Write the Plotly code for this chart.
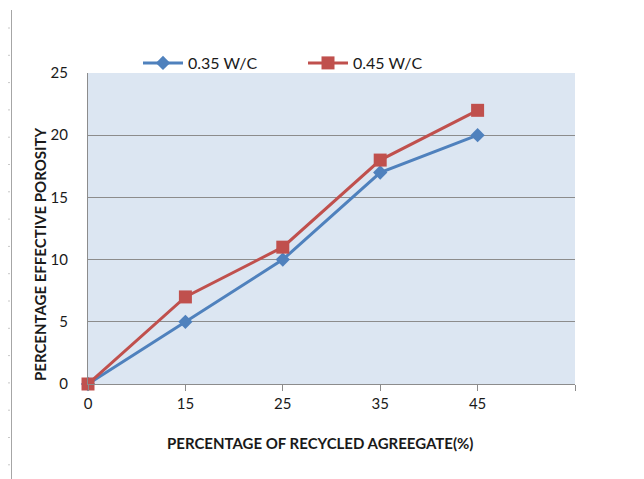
import plotly.graph_objects as go

categories = ["0", "15", "25", "35", "45"]
wc035 = [0, 5, 10, 17, 20]
wc045 = [0, 7, 11, 18, 22]
y_ticks = [0, 5, 10, 15, 20, 25]

FONT = "Lato, 'Open Sans', sans-serif"
xpos = list(range(len(categories)))

# page body has an 8px margin, so the figure is drawn 8px smaller and offset
PW, PH = 487, 311  # plot area in px

fig = go.Figure()
fig.add_trace(go.Scatter(
    x=xpos, y=wc035, name="0.35 W/C", mode="lines+markers", cliponaxis=False,
    line=dict(color="#4F81BD", width=3),
    marker=dict(symbol="diamond", size=11, color="#4F81BD"),
))
fig.add_trace(go.Scatter(
    x=xpos, y=wc045, name="0.45 W/C", mode="lines+markers", cliponaxis=False,
    line=dict(color="#C0504D", width=3),
    marker=dict(symbol="square", size=13, color="#C0504D"),
))

fig.update_layout(
    width=636, height=471,
    margin=dict(l=80, r=69, t=65, b=95),
    paper_bgcolor="white", plot_bgcolor="#DCE6F2",
    font=dict(family=FONT, size=15, color="#1a1a1a"),
    showlegend=True,
    legend=dict(orientation="h", x=(138 - 88) / PW, y=1 + 10 / PH, xanchor="left", yanchor="middle",
                font=dict(size=16), bgcolor="rgba(0,0,0,0)", entrywidth=110,
                itemwidth=40),
    xaxis=dict(range=[0, len(categories)], tickvals=list(range(len(categories) + 1)),
               ticktext=categories + [""], showgrid=False, zeroline=False,
               showline=True, linecolor="#8c8c8c", linewidth=1,
               ticks="outside", ticklen=6, tickcolor="#8c8c8c",
               tickfont=dict(size=15)),
    yaxis=dict(range=[0, 25], tickvals=y_ticks, showgrid=True, gridcolor="#8c8c8c",
               gridwidth=1, zeroline=False, showline=True, linecolor="#8c8c8c",
               ticks="outside", ticklen=0, ticklabelstandoff=16,
               tickfont=dict(size=15)),
)

fig.add_annotation(text="<b>PERCENTAGE OF RECYCLED AGREEGATE(%)</b>", xref="paper", yref="paper",
                   x=(320 - 88) / PW, y=-(443 - 384) / PH, showarrow=False,
                   font=dict(size=15, family=FONT), xanchor="center", yanchor="middle")
fig.add_annotation(text="<b>PERCENTAGE EFFECTIVE POROSITY</b>", xref="paper", yref="paper",
                   x=-(88 - 40) / PW, y=(384 - 255) / PH, showarrow=False, textangle=-90,
                   font=dict(size=15, family=FONT), xanchor="center", yanchor="middle")

# page ruler decorations
shapes = [
    dict(type="line", xref="paper", yref="paper", x0=-(88 - 11.5) / PW, x1=-(88 - 11.5) / PW,
         y0=(384 - 10) / PH, y1=-(479 - 384) / PH, line=dict(color="#a6a6a6", width=1)),
    dict(type="line", xref="paper", yref="paper", x0=(642.5 - 88) / PW, x1=(642.5 - 88) / PW,
         y0=(384 - 10) / PH, y1=-(479 - 384) / PH, line=dict(color="#a6a6a6", width=1)),
]
yy = 28.0
while yy < 479:
    shapes.append(dict(type="line", xref="paper", yref="paper",
                       x0=-(88 - 7) / PW, x1=-(88 - 10) / PW,
                       y0=(384 - yy) / PH, y1=(384 - yy) / PH,
                       line=dict(color="#c8c8c8", width=1)))
    yy += 27.3
fig.update_layout(shapes=shapes)

fig.write_html("out.html")
